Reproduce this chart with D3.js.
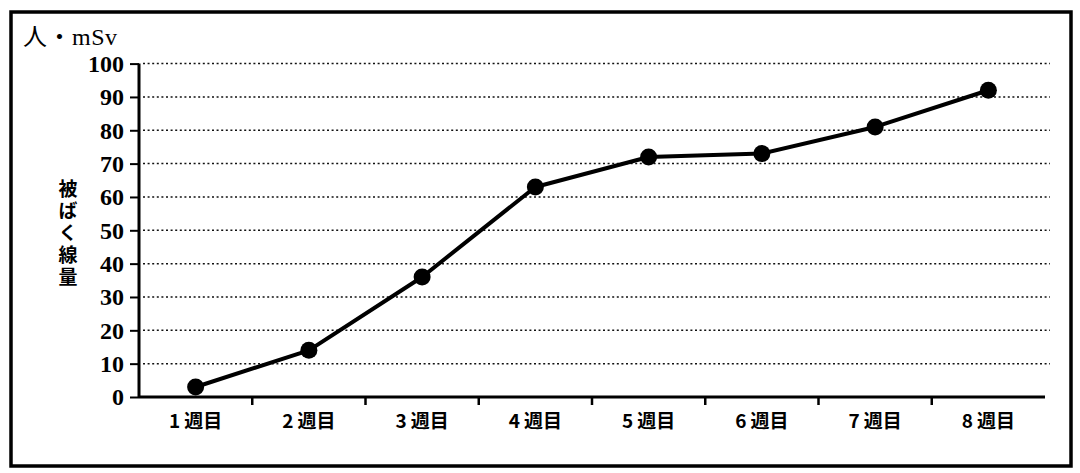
<!DOCTYPE html>
<html>
<head>
<meta charset="utf-8">
<script src="https://cdn.jsdelivr.net/npm/d3@7"></script>
<style>
  html, body { margin: 0; padding: 0; background: #fff; }
  svg { display: block; }
</style>
</head>
<body>
<svg id="chart" width="1080" height="473"></svg>
<script>
// Cumulative exposure dose by week
const weeks = ["1週目", "2週目", "3週目", "4週目", "5週目", "6週目", "7週目", "8週目"];
const doses = [3, 14, 36, 63, 72, 73, 81, 92];
const yTicks = [0, 10, 20, 30, 40, 50, 60, 70, 80, 90, 100];
const unitLabel = "人・mSv";
const axisTitle = "被ばく線量";

const svg = d3.select("#chart");
const plot = { left: 139, right: 1045, top: 63.6, bottom: 397 };

// outer frame
svg.append("rect")
  .attr("x", 11).attr("y", 12)
  .attr("width", 1060).attr("height", 454)
  .attr("fill", "none").attr("stroke", "#000").attr("stroke-width", 3.5);

const x = d3.scaleBand().domain(weeks).range([plot.left, plot.right]).padding(0);
const y = d3.scaleLinear().domain([0, 100]).range([plot.bottom, plot.top]);

// dotted horizontal gridlines
svg.append("g").selectAll("line")
  .data(yTicks.filter(d => d > 0))
  .join("line")
  .attr("x1", plot.left + 4).attr("x2", plot.right + 5)
  .attr("y1", d => y(d)).attr("y2", d => y(d))
  .attr("stroke", "#111").attr("stroke-width", 1.5)
  .attr("stroke-dasharray", "2,2.6");

// y axis
const yAxis = svg.append("g")
  .attr("transform", `translate(${plot.left},0)`)
  .call(d3.axisLeft(y).tickValues(yTicks).tickSize(9).tickPadding(6));
yAxis.select(".domain").attr("stroke", "#000").attr("stroke-width", 3)
  .attr("d", `M0,${plot.top}V${plot.bottom}`);
yAxis.selectAll(".tick line").attr("stroke", "#000").attr("stroke-width", 2);
yAxis.selectAll(".tick text")
  .attr("fill", "#000")
  .style("font-family", "'Liberation Serif', 'DejaVu Serif', serif")
  .style("font-weight", "bold")
  .style("font-size", "24px")
  .attr("dy", "0.33em");

// x axis
const xAxis = svg.append("g")
  .attr("transform", `translate(0,${plot.bottom})`)
  .call(d3.axisBottom(x).tickSize(0).tickPadding(0));
xAxis.select(".domain").attr("stroke", "#000").attr("stroke-width", 3)
  .attr("d", `M${plot.left},0H${plot.right}`);
xAxis.selectAll(".tick text").remove();
xAxis.selectAll(".tick").each(function(d) {
  const t = d3.select(this).append("text")
    .attr("y", 31)
    .attr("fill", "#000")
    .attr("text-anchor", "middle")
    .style("font-family", "'Noto Sans CJK JP', sans-serif")
    .style("font-weight", "bold")
    .style("font-size", "19px");
  t.append("tspan").text(d.slice(0, 1));
  t.append("tspan").attr("dx", 4).text(d.slice(1));
});
// category boundary ticks below the axis
svg.append("g").selectAll("line")
  .data(weeks.slice(1))
  .join("line")
  .attr("x1", d => x(d)).attr("x2", d => x(d))
  .attr("y1", plot.bottom).attr("y2", plot.bottom + 8)
  .attr("stroke", "#000").attr("stroke-width", 2.5);

// unit label
svg.append("text")
  .attr("x", 23).attr("y", 45)
  .attr("fill", "#000")
  .style("font-family", "'Liberation Serif', 'Noto Sans CJK JP', serif")
  .style("font-size", "24px")
  .style("letter-spacing", "0.5px")
  .text(unitLabel);

// vertical axis title
svg.append("text")
  .attr("x", 68).attr("y", 234)
  .attr("fill", "#000")
  .attr("text-anchor", "middle")
  .attr("writing-mode", "vertical-rl")
  .style("font-family", "'Noto Sans CJK JP', sans-serif")
  .style("font-weight", "bold")
  .style("font-size", "19px")
  .style("letter-spacing", "3px")
  .text(axisTitle);

// series line
const pts = weeks.map((w, i) => [x(w) + x.bandwidth() / 2, y(doses[i])]);
svg.append("path")
  .datum(pts)
  .attr("d", d3.line())
  .attr("fill", "none")
  .attr("stroke", "#000")
  .attr("stroke-width", 4)
  .attr("stroke-linejoin", "round");

svg.append("g").selectAll("circle")
  .data(pts)
  .join("circle")
  .attr("cx", d => d[0]).attr("cy", d => d[1])
  .attr("r", 8.5)
  .attr("fill", "#000");
</script>
</body>
</html>
